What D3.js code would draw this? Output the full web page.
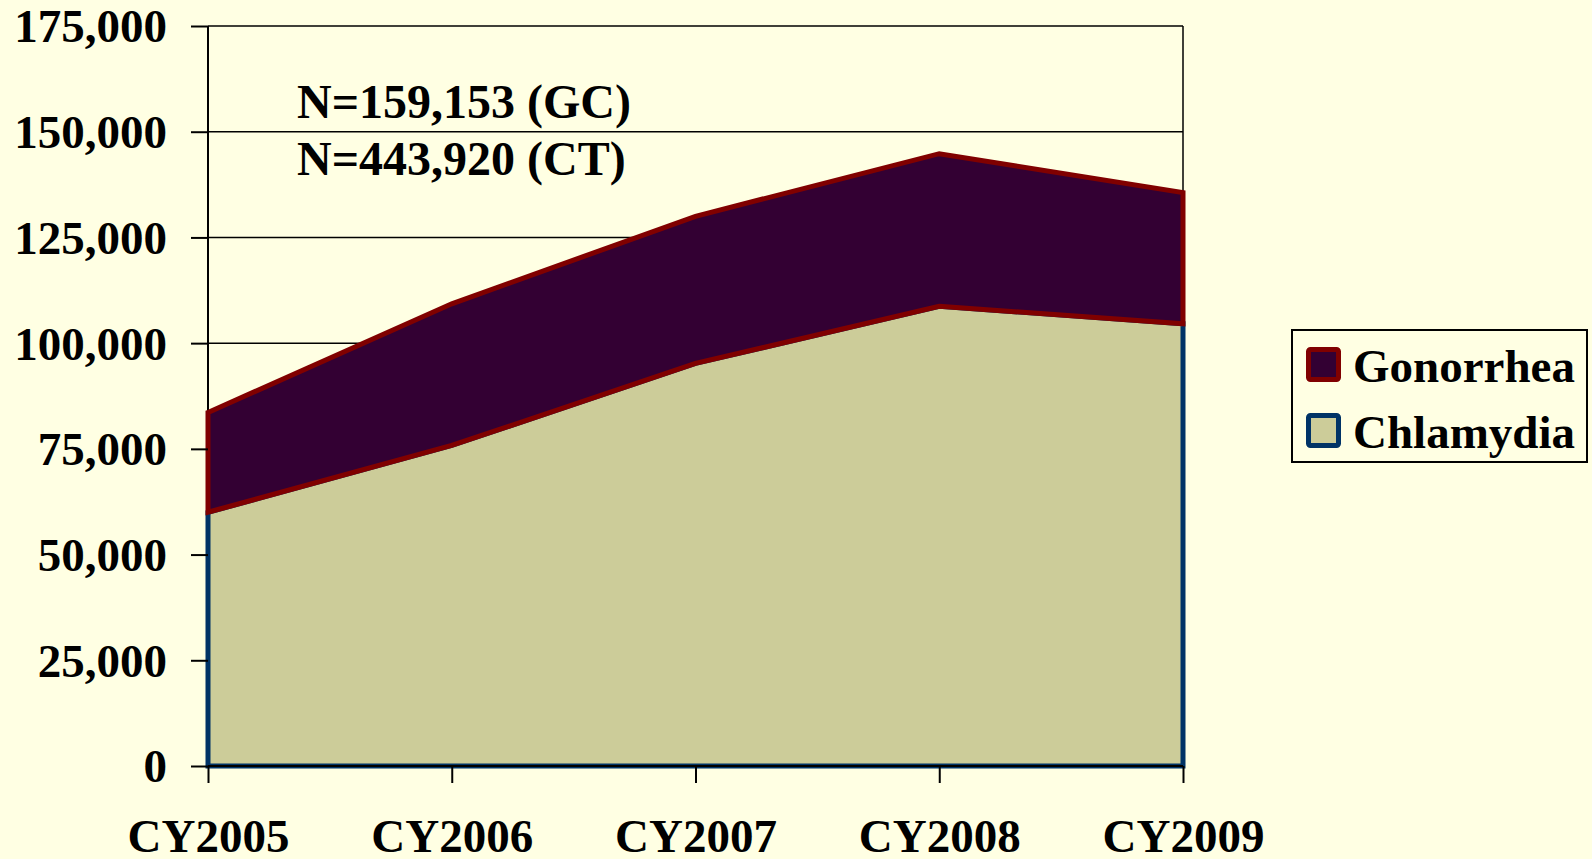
<!DOCTYPE html>
<html>
<head>
<meta charset="utf-8">
<script src="https://cdn.jsdelivr.net/npm/d3@7"></script>
<style>
  html, body { margin: 0; padding: 0; background: #FFFFE3; }
  svg { display: block; }
  text { font-family: "Liberation Serif", "Times New Roman", serif; font-weight: bold; fill: #000; }
</style>
</head>
<body>
<svg id="chart" width="1592" height="859"></svg>
<script>
const categories = ["CY2005", "CY2006", "CY2007", "CY2008", "CY2009"];
const chlamydia = [60000, 75800, 95200, 108700, 104600];
const gonorrhea = [23600, 33500, 34800, 36100, 31000];
const yTicks = [0, 25000, 50000, 75000, 100000, 125000, 150000, 175000];
const annotations = ["N=159,153 (GC)", "N=443,920 (CT)"];
const seriesNames = ["Gonorrhea", "Chlamydia"];

(function () {
const svg = d3.select("#chart");
const W = 1592, H = 859;
const pLeft = 208, pRight = 1183, pTop = 26, pBottom = 766;

svg.append("rect").attr("width", W).attr("height", H).attr("fill", "#FFFFE3");

const x = d3.scalePoint().domain(categories).range([pLeft, pRight]);
const y = d3.scaleLinear().domain([0, 175000]).range([pBottom, pTop]);

// gridlines
svg.append("g").selectAll("line").data(yTicks.filter(d => d > 0)).join("line")
  .attr("x1", pLeft).attr("x2", pRight)
  .attr("y1", d => y(d)).attr("y2", d => y(d))
  .attr("stroke", "#000").attr("stroke-width", 1.5);
// right frame
svg.append("line").attr("x1", pRight).attr("x2", pRight).attr("y1", pTop).attr("y2", pBottom)
  .attr("stroke", "#000").attr("stroke-width", 1.5);

const data = categories.map((c, i) => ({ cat: c, Chlamydia: chlamydia[i], Gonorrhea: gonorrhea[i] }));
const stack = d3.stack().keys(["Chlamydia", "Gonorrhea"])(data);

const area = d3.area()
  .x(d => x(d.data.cat))
  .y0(d => y(d[0]))
  .y1(d => y(d[1]));

const styles = {
  Chlamydia: { fill: "#CCCC99", stroke: "#003366" },
  Gonorrhea: { fill: "#330033", stroke: "#800000" }
};

// axis line left
svg.append("line").attr("x1", pLeft).attr("x2", pLeft).attr("y1", pTop).attr("y2", pBottom)
  .attr("stroke", "#000").attr("stroke-width", 2);

svg.append("g").selectAll("path").data(stack).join("path")
  .attr("d", s => area(s) + "Z")
  .attr("fill", s => styles[s.key].fill)
  .attr("stroke", s => styles[s.key].stroke)
  .attr("stroke-width", 5)
  .attr("stroke-linejoin", "miter");

// bottom axis line
svg.append("line").attr("x1", pLeft).attr("x2", pRight).attr("y1", pBottom).attr("y2", pBottom)
  .attr("stroke", "#000").attr("stroke-width", 2);

// y axis
const yAxis = d3.axisLeft(y).tickValues(yTicks).tickSize(17).tickPadding(24)
  .tickFormat(d3.format(","));
const gy = svg.append("g").attr("transform", `translate(${pLeft},0)`).call(yAxis);
gy.select(".domain").remove();
gy.selectAll(".tick line").attr("stroke", "#000").attr("stroke-width", 2);
gy.selectAll(".tick text").attr("font-size", 47).attr("dy", "0.34em")
  .style("font-family", '"Liberation Serif", "Times New Roman", serif').style("font-weight", "bold").attr("fill", "#000");

// x axis
const xAxis = d3.axisBottom(x).tickSize(17).tickPadding(0);
const gx = svg.append("g").attr("transform", `translate(0,${pBottom})`).call(xAxis);
gx.select(".domain").remove();
gx.selectAll(".tick line").attr("stroke", "#000").attr("stroke-width", 2);
gx.selectAll(".tick text").attr("font-size", 47).attr("y", 86).attr("dy", 0)
  .style("font-family", '"Liberation Serif", "Times New Roman", serif').style("font-weight", "bold").attr("fill", "#000");

// annotations
svg.append("g").selectAll("text").data(annotations).join("text")
  .attr("x", 297).attr("y", (d, i) => 118 + i * 57)
  .attr("font-size", 48).text(d => d);

// legend
const lg = svg.append("g");
lg.append("rect").attr("x", 1292).attr("y", 330).attr("width", 295).attr("height", 132)
  .attr("fill", "#FFFFE3").attr("stroke", "#000").attr("stroke-width", 2);
const items = lg.selectAll("g.item").data(seriesNames).join("g").attr("class", "item")
  .attr("transform", (d, i) => `translate(0,${i * 66})`);
items.append("rect").attr("x", 1308.5).attr("y", 349.5).attr("width", 30).attr("height", 30)
  .attr("rx", 2)
  .attr("fill", d => styles[d].fill).attr("stroke", d => styles[d].stroke).attr("stroke-width", 5);
items.append("text").attr("x", 1353).attr("y", 382).attr("font-size", 47).text(d => d);
})();
</script>
</body>
</html>
